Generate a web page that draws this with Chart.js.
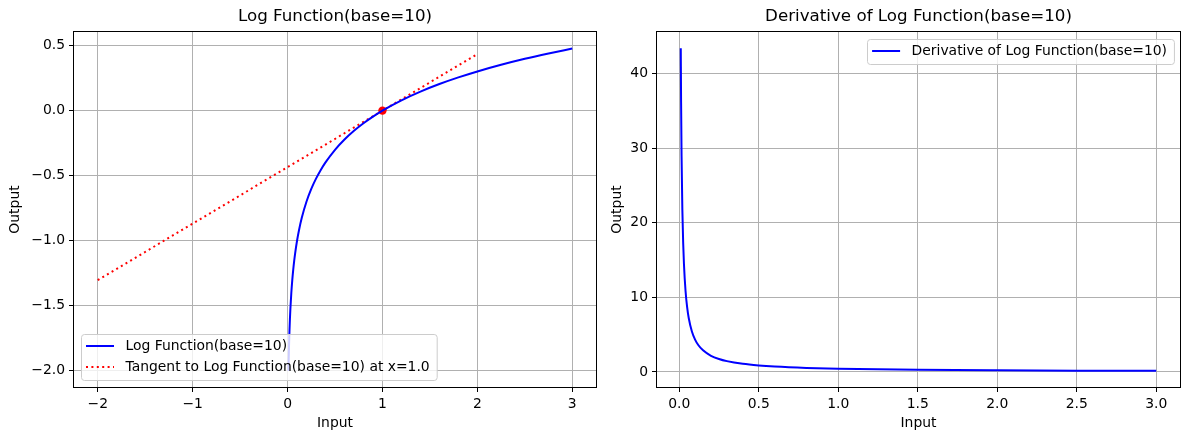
<!DOCTYPE html>
<html>
<head>
<meta charset="utf-8">
<script src="https://cdn.jsdelivr.net/npm/chart.js@4/dist/chart.umd.min.js"></script>
<style>
  body { margin: 0; background: #fff; }
  canvas { position: absolute; top: 0; }
  #left { left: 0; }
  #right { left: 602px; }
</style>
</head>
<body>
<canvas id="left" width="620" height="440"></canvas>
<canvas id="right" width="587" height="440"></canvas>
<script>
// values
const logX = [0.01, 0.012, 0.015, 0.02, 0.025, 0.03, 0.04, 0.05, 0.06, 0.07, 0.08, 0.1, 0.12, 0.15, 0.2, 0.25, 0.3, 0.35, 0.4, 0.5, 0.6, 0.7, 0.8, 0.9, 1.0, 1.2, 1.4, 1.6, 1.8, 2.0, 2.25, 2.5, 2.75, 3.0];
const logY = [-2.0, -1.921, -1.824, -1.699, -1.602, -1.523, -1.398, -1.301, -1.222, -1.155, -1.097, -1.0, -0.921, -0.824, -0.699, -0.602, -0.523, -0.456, -0.398, -0.301, -0.222, -0.155, -0.097, -0.046, 0.0, 0.079, 0.146, 0.204, 0.255, 0.301, 0.352, 0.398, 0.439, 0.477];
const tanX = [-2, 2];
const tanY = [-1.303, 0.434];
const dotX = [1.0];
const dotY = [0.0];
const derivX = [0.01, 0.012, 0.015, 0.02, 0.025, 0.03, 0.04, 0.05, 0.06, 0.08, 0.1, 0.12, 0.15, 0.2, 0.25, 0.3, 0.4, 0.5, 0.6, 0.8, 1.0, 1.5, 2.0, 2.5, 3.0];
const derivY = [43.43, 36.19, 28.95, 21.71, 17.37, 14.48, 10.86, 8.686, 7.238, 5.429, 4.343, 3.619, 2.895, 2.171, 1.737, 1.448, 1.086, 0.869, 0.724, 0.543, 0.434, 0.290, 0.217, 0.174, 0.145];

const leftXTicks = [-2, -1, 0, 1, 2, 3];
const leftYTicks = [-2.0, -1.5, -1.0, -0.5, 0.0, 0.5];
const rightXTicks = [0.0, 0.5, 1.0, 1.5, 2.0, 2.5, 3.0];
const rightYTicks = [0, 10, 20, 30, 40];

const FONT = "DejaVu Sans";

function pts(xs, ys) {
  return xs.map((x, i) => ({ x: x, y: ys[i] }));
}
function minus(s) {
  return s.replace("-", "\u2212");
}

// box around the plot + title centred over the plot, like matplotlib
const frame = {
  id: "frame",
  afterDatasetsDraw(chart, args, opts) {
    const a = chart.chartArea;
    const ctx = chart.ctx;
    ctx.save();
    ctx.strokeStyle = "#000";
    ctx.lineWidth = 1;
    ctx.strokeRect(Math.round(a.left) - 0.5, Math.round(a.top) - 0.5, Math.round(a.right - a.left) + 1, Math.round(a.bottom - a.top) + 1);
    ctx.fillStyle = "#000";
    ctx.font = "16.7px " + FONT;
    ctx.textAlign = "center";
    ctx.textBaseline = "middle";
    ctx.fillText(opts.title, (a.left + a.right) / 2, 17);
    ctx.restore();
  },
};

// legend drawn inside the plot
const boxLegend = {
  id: "boxLegend",
  afterDraw(chart, args, opts) {
    const ctx = chart.ctx;
    const a = chart.chartArea;
    const items = chart.data.datasets.filter((d) => d.label);
    ctx.save();
    ctx.font = "13.9px " + FONT;
    let tw = 0;
    items.forEach((d) => { tw = Math.max(tw, ctx.measureText(d.label).width); });
    const w = 44.5 + tw + 7;
    const rowH = 21;
    const h = items.length * rowH + 4;
    let bx, by;
    if (opts.where === "lower left") {
      bx = a.left + 7;
      by = a.bottom - 7 - h;
    } else {
      bx = a.right - 6 - w;
      by = a.top + 7;
    }
    ctx.beginPath();
    ctx.roundRect(Math.round(bx) + 0.5, Math.round(by) + 0.5, w, h, 3);
    ctx.fillStyle = "rgba(255,255,255,0.8)";
    ctx.fill();
    ctx.strokeStyle = "#cccccc";
    ctx.lineWidth = 1;
    ctx.stroke();
    items.forEach((d, i) => {
      const cy = by + 12 + i * rowH;
      ctx.beginPath();
      ctx.setLineDash(d.borderDash || []);
      ctx.strokeStyle = d.borderColor;
      ctx.lineWidth = d.borderWidth;
      ctx.moveTo(bx + 5, cy);
      ctx.lineTo(bx + 33, cy);
      ctx.stroke();
      ctx.setLineDash([]);
      ctx.fillStyle = "#000";
      ctx.textBaseline = "middle";
      ctx.fillText(d.label, bx + 44.5, cy);
    });
    ctx.restore();
  },
};

function axis(min, max, ticks, fmt, title, width, height) {
  return {
    type: "linear",
    min: min,
    max: max,
    afterBuildTicks: (s) => { s.ticks = ticks.map((v) => ({ value: v })); },
    afterFit: (s) => {
      if (width) s.width = width;
      if (height) s.height = height;
    },
    grid: { color: "#b0b0b0", lineWidth: 1, tickColor: "#000", tickLength: 5 },
    border: { display: false },
    ticks: {
      color: "#000",
      font: { family: FONT, size: 13.9 },
      padding: 4,
      maxRotation: 0,
      autoSkip: false,
      callback: (v) => minus(fmt(v)),
    },
    title: {
      display: true,
      text: title,
      color: "#000",
      font: { family: FONT, size: 13.9 },
      padding: { top: 7, bottom: 8 },
    },
  };
}

function baseOptions(titleText, xScale, yScale, legendWhere, padRight) {
  return {
    responsive: false,
    animation: false,
    layout: { padding: { left: 0, right: padRight, top: 32, bottom: 0 } },
    plugins: {
      legend: { display: false },
      tooltip: { enabled: false },
      title: { display: false },
      frame: { title: titleText },
      boxLegend: { where: legendWhere },
    },
    scales: { x: xScale, y: yScale },
  };
}

new Chart(document.getElementById("left").getContext("2d"), {
  type: "scatter",
  data: {
    datasets: [
      {
        label: "Log Function(base=10)",
        data: pts(logX, logY),
        showLine: true,
        borderColor: "blue",
        borderWidth: 2,
        pointRadius: 0,
        cubicInterpolationMode: "monotone",
        order: 0,
      },
      {
        label: "Tangent to Log Function(base=10) at x=1.0",
        data: pts(tanX, tanY),
        showLine: true,
        borderColor: "red",
        borderWidth: 2,
        borderDash: [2, 3.4],
        pointRadius: 0,
        order: 1,
      },
      {
        data: pts(dotX, dotY),
        pointRadius: 4.2,
        backgroundColor: "red",
        borderWidth: 0,
        order: 2,
      },
    ],
  },
  options: baseOptions(
    "Log Function(base=10)",
    axis(-2.25, 3.25, leftXTicks, (v) => String(v), "Input", null, 53),
    axis(-2.124, 0.604, leftYTicks, (v) => v.toFixed(1), "Output", 74, null),
    "lower left",
    24
  ),
  plugins: [frame, boxLegend],
});

new Chart(document.getElementById("right").getContext("2d"), {
  type: "scatter",
  data: {
    datasets: [
      {
        label: "Derivative of Log Function(base=10)",
        data: pts(derivX, derivY),
        showLine: true,
        borderColor: "blue",
        borderWidth: 2,
        pointRadius: 0,
        cubicInterpolationMode: "monotone",
      },
    ],
  },
  options: baseOptions(
    "Derivative of Log Function(base=10)",
    axis(-0.1395, 3.1495, rightXTicks, (v) => v.toFixed(1), "Input", null, 53),
    axis(-2.02, 45.6, rightYTicks, (v) => String(v), "Output", 55, null),
    "upper right",
    9
  ),
  plugins: [frame, boxLegend],
});
</script>
</body>
</html>
